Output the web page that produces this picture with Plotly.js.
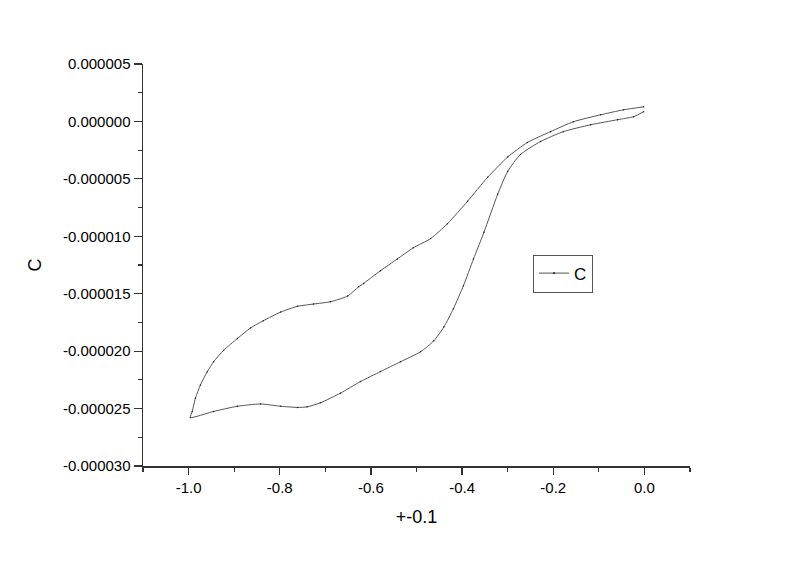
<!DOCTYPE html>
<html>
<head>
<meta charset="utf-8">
<script src="https://cdn.plot.ly/plotly-3.0.1.min.js"></script>
<style>html,body{margin:0;padding:0;background:#fff;}#chart{width:800px;height:561px;}</style>
</head>
<body>
<div id="chart"></div>
<script>
// Lower branch (from 0.0 down to -1.0), x in V, y in units of 1e-6
const lowerX = [-0.002, -0.024, -0.059, -0.118, -0.178, -0.228, -0.272, -0.300, -0.322, -0.352, -0.375, -0.397, -0.419, -0.440, -0.462, -0.491, -0.535, -0.579, -0.623, -0.667, -0.711, -0.740, -0.761, -0.798, -0.842, -0.893, -0.945, -0.996];
const lowerY = [0.84, 0.41, 0.15, -0.29, -0.89, -1.75, -2.88, -4.35, -6.35, -9.65, -11.98, -14.3, -16.3, -17.9, -19.1, -20.05, -20.92, -21.78, -22.65, -23.66, -24.5, -24.85, -24.9, -24.8, -24.6, -24.8, -25.25, -25.77];
// Upper branch (from -1.0 back up to 0.0)
const upperX = [-0.992, -0.985, -0.974, -0.959, -0.945, -0.923, -0.893, -0.864, -0.836, -0.798, -0.761, -0.726, -0.689, -0.651, -0.627, -0.616, -0.579, -0.542, -0.507, -0.469, -0.432, -0.388, -0.344, -0.300, -0.257, -0.206, -0.156, -0.096, -0.046, -0.002];
const upperY = [-25.25, -24.1, -22.94, -21.79, -20.92, -19.92, -18.9, -17.98, -17.35, -16.6, -16.1, -15.9, -15.7, -15.2, -14.4, -14.1, -13.0, -11.97, -11.0, -10.2, -8.9, -6.95, -4.87, -3.1, -1.84, -0.89, -0.03, 0.58, 1.01, 1.27];

const seriesName = "C";
const xTickVals = [-1.0, -0.8, -0.6, -0.4, -0.2, 0.0];
const xTickText = ["-1.0", "-0.8", "-0.6", "-0.4", "-0.2", "0.0"];
const yTickVals = [0.000005, 0, -0.000005, -0.00001, -0.000015, -0.00002, -0.000025, -0.00003];
const yTickText = ["0.000005", "0.000000", "-0.000005", "-0.000010", "-0.000015", "-0.000020", "-0.000025", "-0.000030"];
const xTitle = "+-0.1";
const yTitle = "C";

const xs = lowerX.concat(upperX);
const ys = lowerY.concat(upperY).map(v => v * 1e-6);

const font = "Liberation Sans, Arial, sans-serif";
const axisCol = "#333333";

const trace = {
  x: xs, y: ys, name: seriesName, type: "scatter", mode: "lines+markers",
  line: {color: "#555555", width: 1, shape: "spline", smoothing: 0.6},
  marker: {color: "#222222", size: 1.5}
};

const layout = {
  width: 800, height: 561,
  margin: {l: 143, r: 110, t: 64, b: 95},
  paper_bgcolor: "#ffffff", plot_bgcolor: "#ffffff",
  font: {family: font, color: "#000000", size: 15},
  showlegend: true,
  legend: {
    x: 0.713, y: 0.526, xanchor: "left", yanchor: "top",
    bordercolor: "#555555", borderwidth: 1, bgcolor: "#ffffff",
    font: {family: font, size: 17, color: "#000000"},
    itemwidth: 30, tracegroupgap: 0
  },
  xaxis: {
    range: [-1.1, 0.1], showgrid: false, zeroline: false,
    showline: true, linecolor: axisCol, linewidth: 1.5,
    ticks: "outside", ticklen: 7, tickwidth: 1.2, tickcolor: axisCol,
    tickmode: "array", tickvals: xTickVals, ticktext: xTickText,
    tickfont: {family: font, size: 15, color: "#000000"},
    minor: {ticks: "outside", ticklen: 4, tickwidth: 1.2, tickcolor: axisCol, tick0: -1.1, dtick: 0.1, showgrid: false},
    title: {text: xTitle, font: {family: font, size: 18, color: "#000000"}, standoff: 16}
  },
  yaxis: {
    range: [-0.00003, 0.000005], showgrid: false, zeroline: false,
    showline: true, linecolor: axisCol, linewidth: 1.5,
    ticks: "outside", ticklen: 8, tickwidth: 1.2, tickcolor: axisCol,
    tickmode: "array", tickvals: yTickVals, ticktext: yTickText,
    tickfont: {family: font, size: 15, color: "#000000"},
    minor: {ticks: "outside", ticklen: 4, tickwidth: 1.2, tickcolor: axisCol, tick0: 0, dtick: 0.0000025, showgrid: false},
    title: {text: yTitle, font: {family: font, size: 18, color: "#000000"}, standoff: 16}
  }
};

Plotly.newPlot("chart", [trace], layout, {displayModeBar: false, staticPlot: true});
</script>
</body>
</html>
